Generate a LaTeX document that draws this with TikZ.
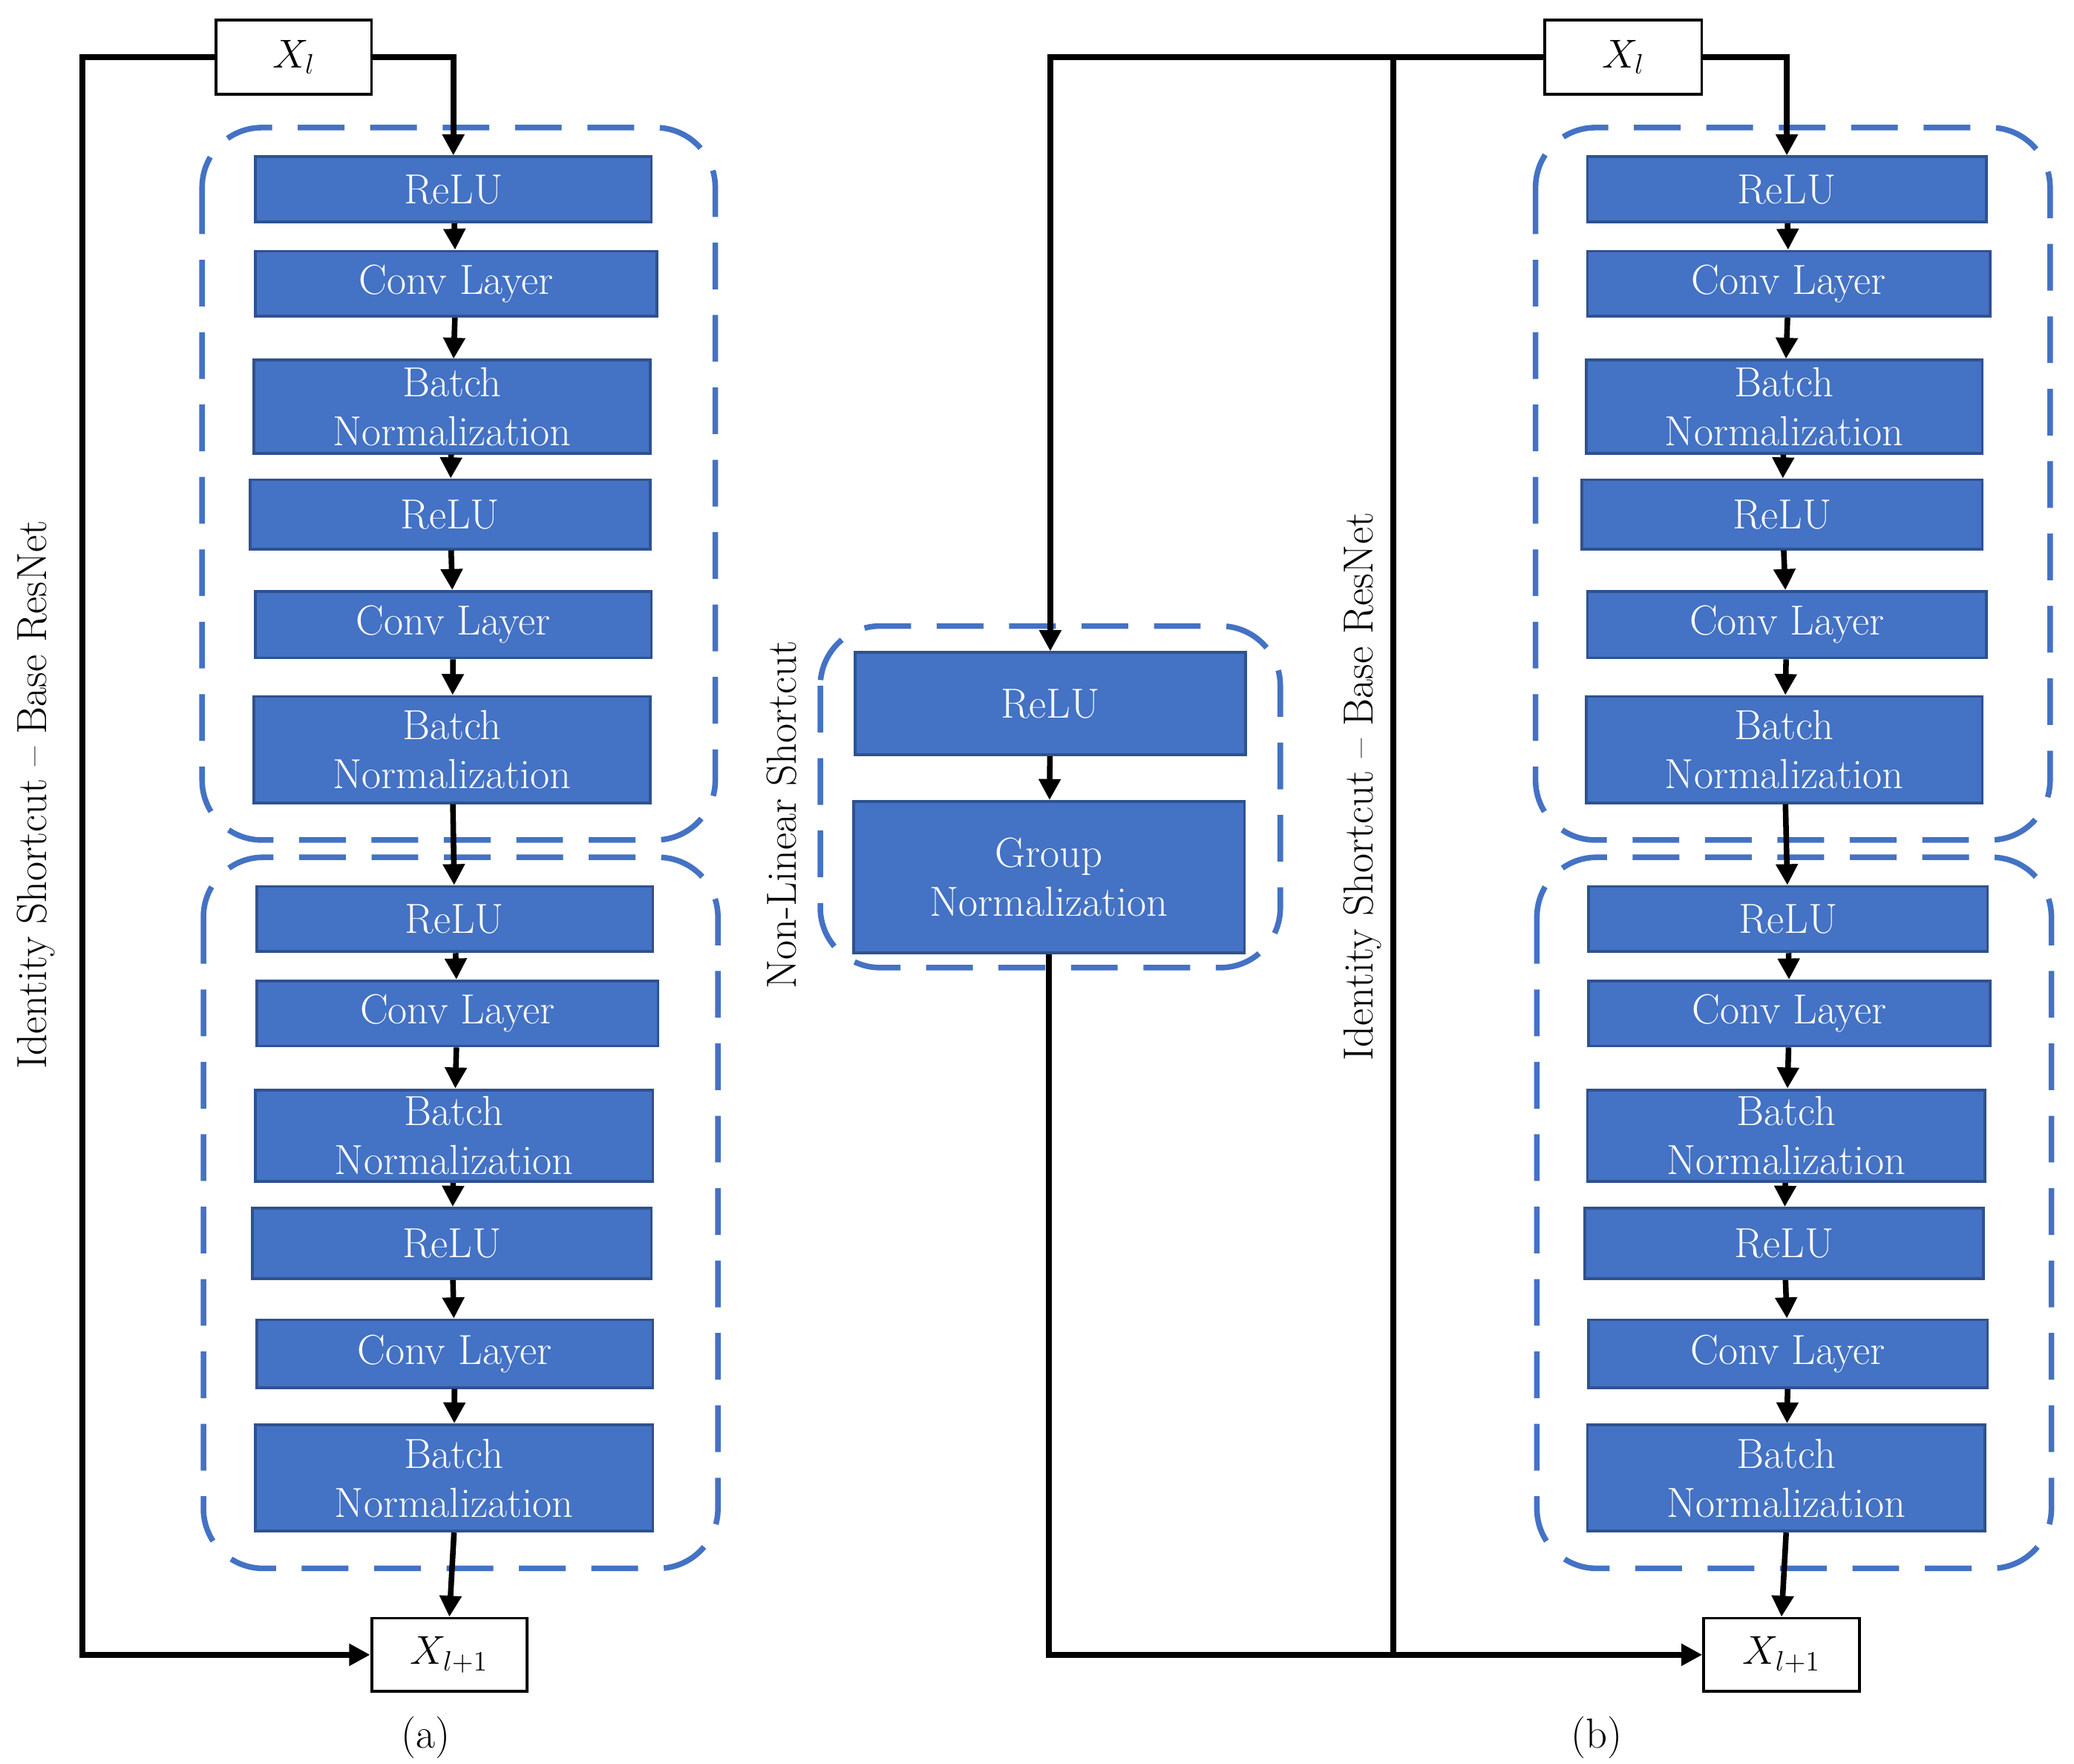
\documentclass[tikz,border=0pt]{standalone}
\usetikzlibrary{arrows.meta}
\definecolor{bfill}{HTML}{4472C4}
\definecolor{bdraw}{HTML}{2F528F}
\newcommand\blk[6]{\node[blk,minimum width={(#4-#2)*0.02cm},minimum height={(#5-#3)*0.02cm}] (#1) at ({(#2+#4)/2},{(#3+#5)/2}) {#6};}
\newcommand\dbox[4]{\draw[dbx] (#1,#2) rectangle (#3,#4);}
\begin{document}
\begin{tikzpicture}[x=0.02cm,y=-0.02cm,
 blk/.style={draw=bdraw,line width=1.2pt,fill=bfill,text=white,inner sep=0pt,align=center,font=\fontsize{18}{21}\selectfont},
 xbox/.style={draw,line width=1.2pt,fill=white,inner sep=0pt,font=\fontsize{18}{21}\selectfont},
 dbx/.style={draw=bfill,line width=2.4pt,dash pattern=on 20pt off 11pt,rounded corners=0.9cm},
 ln/.style={line width=2.4pt},
 ar/.style={line width=2.4pt,-{Triangle[length=9pt,width=9pt]}},
 lab/.style={font=\fontsize{18}{21}\selectfont}]
\useasboundingbox (0,0) rectangle (1560,1327);
% ---------- (a)
\dbox{152}{96}{538}{632}
\dbox{153}{645}{540}{1180}
\node[xbox,minimum width=2.34cm,minimum height=1.12cm] (xa) at (221,43) {$X_l$};
\node[xbox,minimum width=2.34cm,minimum height=1.1cm] (ya) at (338,1245) {$X_{l+1}$};
\blk{a1}{192}{118}{490}{167}{ReLU}
\blk{a2}{192}{189}{494}{238}{Conv Layer}
\blk{a3}{191}{271}{489}{341}{Batch\\Normalization}
\blk{a4}{188}{361}{489}{413}{ReLU}
\blk{a5}{192}{445}{490}{495}{Conv Layer}
\blk{a6}{191}{524}{489}{604}{Batch\\Normalization}
\blk{a7}{193}{667}{491}{716}{ReLU}
\blk{a8}{193}{738}{495}{787}{Conv Layer}
\blk{a9}{192}{820}{491}{889}{Batch\\Normalization}
\blk{a10}{190}{909}{490}{962}{ReLU}
\blk{a11}{193}{993}{491}{1044}{Conv Layer}
\blk{a12}{192}{1072}{491}{1152}{Batch\\Normalization}
\draw[ar] (xa.east) -| (a1.north);
\foreach \i/\j in {1/2,2/3,3/4,4/5,5/6,6/7,7/8,8/9,9/10,10/11,11/12}{\draw[ar] (a\i) -- (a\j);}
\draw[ar] (a12.south) -- (ya.north);
\draw[ar] (xa.west) -- (62,43) |- (ya.west);
\node[lab,rotate=90] (la) at (27,598) {Identity Shortcut -- Base ResNet};
\node[lab] (ca) at (320,1307) {(a)};
% ---------- (b)
\dbox{1155}{96}{1542}{632}
\dbox{1156}{645}{1543}{1180}
\dbox{617}{471}{963}{728}
\node[xbox,minimum width=2.36cm,minimum height=1.12cm] (xb) at (1221,43) {$X_l$};
\node[xbox,minimum width=2.34cm,minimum height=1.1cm] (yb) at (1340,1245) {$X_{l+1}$};
\blk{b1}{1194}{118}{1494}{167}{ReLU}
\blk{b2}{1194}{189}{1497}{238}{Conv Layer}
\blk{b3}{1193}{271}{1491}{341}{Batch\\Normalization}
\blk{b4}{1190}{361}{1491}{413}{ReLU}
\blk{b5}{1194}{445}{1494}{495}{Conv Layer}
\blk{b6}{1193}{524}{1491}{604}{Batch\\Normalization}
\blk{b7}{1195}{667}{1495}{716}{ReLU}
\blk{b8}{1195}{738}{1497}{787}{Conv Layer}
\blk{b9}{1194}{820}{1493}{889}{Batch\\Normalization}
\blk{b10}{1192}{909}{1492}{962}{ReLU}
\blk{b11}{1195}{993}{1495}{1044}{Conv Layer}
\blk{b12}{1194}{1072}{1493}{1152}{Batch\\Normalization}
\blk{g1}{643}{491}{937}{568}{ReLU}
\blk{g2}{642}{603}{936}{717}{Group\\Normalization}
\draw[ar] (xb.east) -| (b1.north);
\foreach \i/\j in {1/2,2/3,3/4,4/5,5/6,6/7,7/8,8/9,9/10,10/11,11/12}{\draw[ar] (b\i) -- (b\j);}
\draw[ar] (b12.south) -- (yb.north);
\coordinate (t) at (1048,43);
\coordinate (bt) at (1048,1245);
\draw[ar] (xb.west) -- (790,43) -- (g1.north);
\draw[ar] (g1) -- (g2);
\draw[ln] (t) -- (bt);
\draw[ar] (g2.south) |- (yb.west);
\node[lab,rotate=90] (lb) at (1025,592) {Identity Shortcut -- Base ResNet};
\node[lab,rotate=90] (ln) at (588,613) {Non-Linear Shortcut};
\node[lab] (cb) at (1201,1307) {(b)};
\end{tikzpicture}
\end{document}
